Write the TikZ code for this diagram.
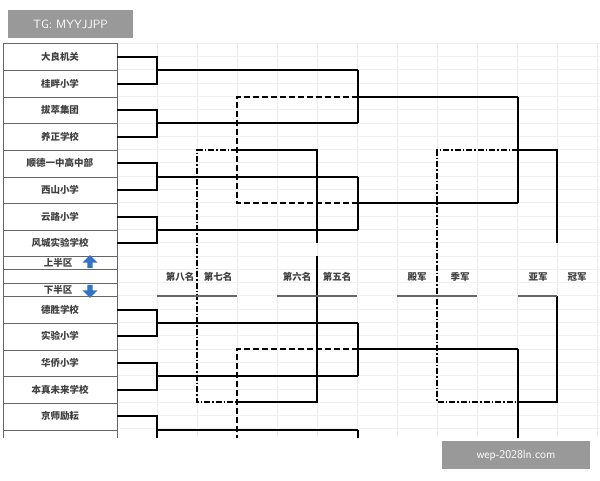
\documentclass[tikz,border=0pt]{standalone}
\usepackage{fontspec}
\newfontfamily\cjk{Noto Sans CJK SC}
\usetikzlibrary{shapes.arrows}
\begin{document}
\begin{tikzpicture}[x=1pt,y=-1pt,
  win/.style={line width=2.2pt},
  los/.style={line width=1.8pt,dash pattern=on 6pt off 3pt},
  thr/.style={line width=1.2pt,dash pattern=on 6pt off 2pt on 1.5pt off 2pt},
  lbl/.style={font=\cjk\bfseries\fontsize{9.5}{9.5}\selectfont,text=black!75},
  barrow/.style={single arrow,fill=blue!55!cyan!70!black!80,draw=none,minimum height=13pt,minimum width=15pt,single arrow head extend=3pt,inner sep=1.5pt},
  wm/.style={fill=black!40,text=white,font=\sffamily\fontsize{12}{12}\selectfont,inner sep=0pt,minimum height=28pt}]
\useasboundingbox (0,0) rectangle (600,480);
\fill[white] (0,0) rectangle (600,480);
\begin{scope}
\clip (0,43) rectangle (600,437);
% grid
\foreach \x in {157,197,...,597} \draw[black!8,line width=0.6pt] (\x,43) -- (\x,437);
\foreach \y in {43,56.3,...,437} \draw[black!6,line width=0.6pt] (117,\y) -- (600,\y);
% left table
\draw[black!60,line width=1pt] (3,43) -- (3,440) (117,43) -- (117,440);
\foreach \y in {43,70,97,123,150,177,203,230,256,269,283,296,323,350,376,403,430}
  \draw[black!60,line width=1pt] (3,\y) -- (117,\y);
\foreach \t/\y in {大良机关/57,桂畔小学/84,拔萃集团/110,养正学校/137,顺德一中高中部/163,西山小学/190,云路小学/217,风城实验学校/243,德胜学校/310,实验小学/336,华侨小学/363,本真未来学校/390,京师励耘/416}
  \node[lbl] at (60,\y) {\t};
\node[lbl] (up) at (58,263) {上半区};
\node[lbl] (dn) at (58,290) {下半区};
\node[barrow,shape border rotate=90] (ua) at (90,263) {};
\node[barrow,shape border rotate=270] (da) at (90,290) {};
% round 1
\foreach \a/\b/\m in {57/84/70,110/137/123,163/190/177,217/243/230,310/336/323,363/390/376,416/443/430}
  \draw[win] (117,\a) -| (157,\b) -- (117,\b) (157,\m) -- (358,\m);
% round 2
\draw[win] (358,70) -- (358,123) (358,177) -- (358,230) (358,323) -- (358,376) (358,430) -- (358,440);
\draw[win] (358,97) -- (518,97) (358,203) -- (518,203) (358,349) -- (518,349);
\draw[win] (518,97) -- (518,203) (518,349) -- (518,440);
\draw[los] (358,97) -- (237,97) -- (237,203) -- (358,203);
\draw[los] (358,349) -- (237,349) -- (237,440);
% 5-8
\draw[thr] (237,150) -- (197,150) -- (197,402) -- (237,402);
\draw[win] (237,150) -- (317,150) -- (317,243) (317,256) -- (317,402) -- (237,402);
% final
\draw[win] (518,150) -- (557,150) -- (557,243) (557,296) -- (557,402) -- (518,402);
\draw[thr] (518,150) -- (437,150) -- (437,402) -- (518,402);
% label row
\foreach \t/\x in {第八名/180,第七名/218,第六名/297,第五名/337,殿军/417,季军/460,亚军/538,冠军/577}
  \node[lbl] at (\x,277) {\t};
\draw[black!60,line width=1.2pt] (157,296) -- (237,296) (277,296) -- (357,296) (397,296) -- (477,296) (518,296) -- (557,296);
\end{scope}
\node[wm,minimum width=125pt] (w1) at (70.5,24) {TG: MYYJJPP};
\node[wm,minimum width=148pt] (w2) at (516,455) {wep-2028ln.com};
\end{tikzpicture}
\end{document}
